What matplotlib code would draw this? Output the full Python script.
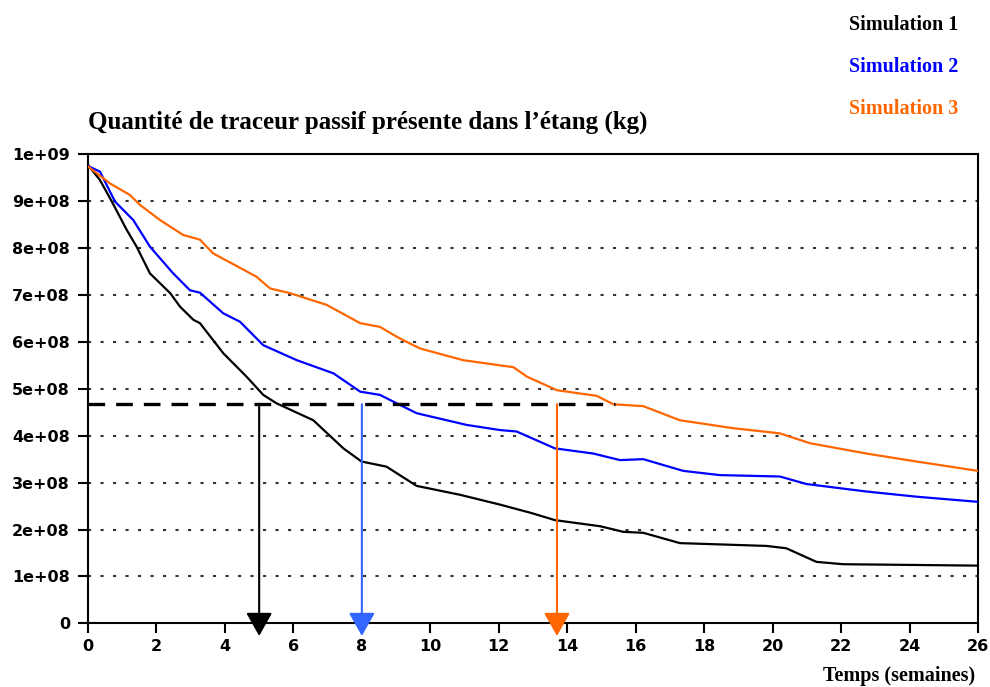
import matplotlib
matplotlib.use("Agg")
import matplotlib.pyplot as plt

# temps (semaines) et quantite (x 1e8 kg)
t_sim1 = [0, 0.35, 0.69, 1.13, 1.42, 1.81, 2.4, 2.69, 3.08, 3.27, 3.95, 4.63, 5.12, 5.51,
          6.58, 7.46, 7.99, 8.72, 9.6, 10.87, 12.04, 12.96, 13.64, 14.96, 15.64, 16.22,
          17.29, 19.82, 20.4, 21.28, 22.06, 26]
q_sim1 = [9.77, 9.45, 9.0, 8.39, 8.03, 7.46, 7.04, 6.75, 6.47, 6.40, 5.76, 5.26, 4.87, 4.69,
          4.33, 3.73, 3.45, 3.34, 2.93, 2.74, 2.53, 2.35, 2.2, 2.07, 1.95, 1.93,
          1.71, 1.65, 1.6, 1.31, 1.26, 1.23]

t_sim2 = [0, 0.35, 0.79, 1.32, 1.81, 2.49, 2.98, 3.27, 3.95, 4.44, 5.12, 6.1, 7.17, 7.95,
          8.53, 9.02, 9.6, 11.06, 12.04, 12.52, 13.64, 14.76, 15.54, 16.22, 17.39, 18.46,
          20.21, 20.99, 22.74, 24.2, 26]
q_sim2 = [9.75, 9.63, 8.99, 8.6, 8.03, 7.46, 7.1, 7.05, 6.61, 6.43, 5.93, 5.61, 5.33, 4.94,
          4.87, 4.69, 4.48, 4.23, 4.12, 4.09, 3.73, 3.62, 3.48, 3.5, 3.25, 3.16,
          3.13, 2.97, 2.81, 2.7, 2.59]

t_sim3 = [0, 0.64, 1.23, 1.52, 2.1, 2.78, 3.27, 3.65, 4.92, 5.32, 5.9, 6.97, 7.95, 8.53,
          9.02, 9.31, 9.7, 10.96, 12.43, 12.82, 13.7, 14.86, 15.35, 16.22, 17.29, 18.85,
          20.21, 21.09, 22.74, 24.2, 26]
q_sim3 = [9.74, 9.38, 9.13, 8.92, 8.6, 8.28, 8.18, 7.89, 7.39, 7.14, 7.04, 6.79, 6.4, 6.32,
          6.11, 6.0, 5.86, 5.61, 5.46, 5.26, 4.97, 4.85, 4.67, 4.63, 4.33, 4.16,
          4.05, 3.84, 3.62, 3.45, 3.25]

seuil = 4.67e8          # niveau de reference (tirets)
seuil_fin = 15.4        # fin du trait en tirets
t_fleches = [5, 8, 13.7]

noms = ["Simulation 1", "Simulation 2", "Simulation 3"]
couleurs = ["black", "#0000ff", "#ff6600"]
couleurs_fleches = ["black", "#3366ff", "#ff6600"]

x_ticks = list(range(0, 27, 2))
y_ticks = [i * 1e8 for i in range(11)]
y_labels = ["0"] + [f"{i}e+08" for i in range(1, 10)] + ["1e+09"]

fig = plt.figure(figsize=(9.9, 6.87), dpi=100)
ax = fig.add_axes([0.0889, 0.0927, 0.899, 0.6827])

for t, q, c in zip([t_sim1, t_sim2, t_sim3], [q_sim1, q_sim2, q_sim3], couleurs):
    ax.plot(t, [v * 1e8 for v in q], color=c, lw=1.6, zorder=3)

ax.plot([0, seuil_fin], [seuil, seuil], color="black", lw=2.4, ls=(0, (5, 3.3)), zorder=4)

for tf, c in zip(t_fleches, couleurs_fleches):
    ax.annotate("", xy=(tf, -0.27e8), xytext=(tf, seuil),
                arrowprops=dict(arrowstyle="-|>,head_length=0.8,head_width=0.45",
                                color=c, lw=1.5, shrinkA=0, shrinkB=0, mutation_scale=18),
                annotation_clip=False, zorder=5)

ax.set_xlim(0, 26)
ax.set_ylim(0, 1e9)
ax.set_xticks(x_ticks)
ax.set_xticklabels([str(v) for v in x_ticks])
ax.set_yticks(y_ticks)
ax.set_yticklabels(y_labels)

for g in y_ticks[1:-1]:
    ax.axhline(g, color="#333333", lw=1.5, ls=(0, (1.5, 4.5)), zorder=1)

for s in ax.spines.values():
    s.set_linewidth(1.5)
ax.tick_params(direction="out", length=7, width=1.5)
ax.tick_params(axis="y", pad=6)
ax.tick_params(axis="x", pad=4)
for lab in ax.get_xticklabels() + ax.get_yticklabels():
    lab.set_fontfamily("DejaVu Sans")
    lab.set_fontweight("bold")
    lab.set_fontsize(11.5)

fig.text(88 / 990, 1 - 122 / 687, "Quantité de traceur passif présente dans l\u2019étang (kg)",
         family="Liberation Serif", weight="bold", fontsize=18, ha="left", va="center")
fig.text(975 / 990, 1 - 676 / 687, "Temps (semaines)",
         family="Liberation Serif", weight="bold", fontsize=14.5, ha="right", va="center")

for i, (nom, c) in enumerate(zip(noms, couleurs)):
    fig.text(958 / 990, 1 - (25 + 42 * i) / 687, nom, color=c,
             family="Liberation Serif", weight="bold", fontsize=14.5, ha="right", va="center")

fig.savefig("out.png", dpi=100)
